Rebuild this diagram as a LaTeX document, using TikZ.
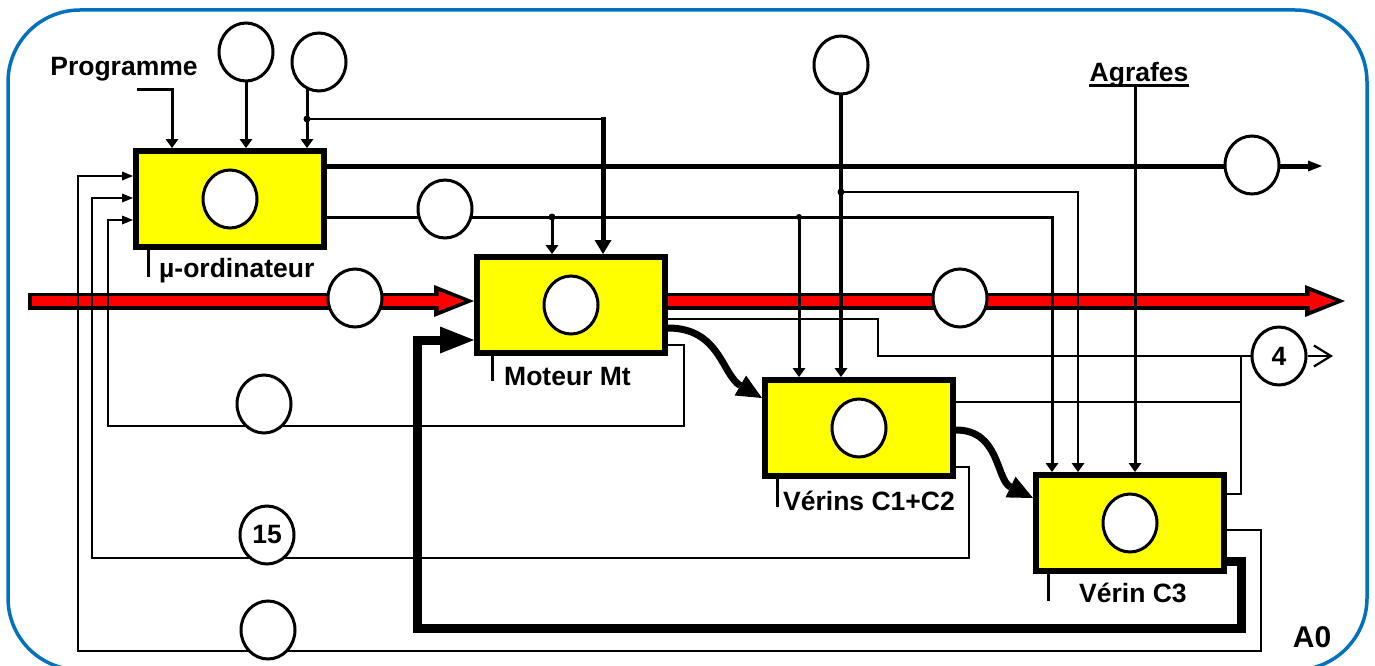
\documentclass[tikz,border=0pt]{standalone}
\usepackage{fontspec}
\setmainfont{Liberation Sans}
\usetikzlibrary{arrows.meta,shapes.geometric,backgrounds}
\definecolor{frameblue}{RGB}{0,112,192}
\definecolor{boxyellow}{RGB}{255,255,0}
\definecolor{flowred}{RGB}{255,0,0}
\tikzset{
  blk/.style={draw,line width=6pt,fill=boxyellow,minimum width=188pt,minimum height=96pt,inner sep=0pt},
  circ/.style={ellipse,draw,line width=3pt,fill=white,minimum width=54pt,minimum height=58pt,
    inner sep=0pt,font=\bfseries\fontsize{26.5pt}{29pt}\selectfont},
  tag/.style={font=\bfseries\fontsize{26.5pt}{29pt}\selectfont,inner sep=0pt},
  wire/.style={line width=#1},
  wire/.default=2.2pt,
  small tip/.style={-{Triangle[length=9pt,width=13pt,line width=0pt]}},
  side tip/.style={-{Triangle[length=11pt,width=9pt,line width=0pt]}},
  big tip/.style={-{Triangle[length=14pt,width=17pt,line width=0pt]}},
  curve tip/.style={-{Triangle[length=25pt,width=23pt,line width=0pt]}},
  back tip/.style={-{Triangle[length=34pt,width=27pt,line width=0pt]}},
  end tip/.style={-{Triangle[length=14pt,width=11pt,line width=0pt]}},
  open tip/.style={-{Straight Barb[length=17pt,width=21pt]}},
  flowline/.style={line width=17pt,-{Triangle[length=40pt,width=32pt,line width=0pt]}},
  flowcore/.style={flowred,line width=10pt,shorten >=9.5pt,-{Triangle[length=26pt,width=20pt,line width=0pt]}},
  frame/.style={draw=frameblue,line width=3.5pt,rounded corners=72pt},
}

\begin{document}
\begin{tikzpicture}[x=1pt,y=-1pt]
  \useasboundingbox (0,0) rectangle (1375,666);
  % blocks
  \foreach \n/\x/\y in {mic/230/199,mot/571/305,ver/859/428,vc3/1130/523}
  {
    \node[blk] (\n) at (\x,\y) {};
    \node[circ] (\n-c) at (\n) {};
  }
  % circles on the flows
  \foreach \n/\x/\y/\t in {ea/246/52/{},eb/319/62/{},ec/841/65/{},eo1/1252/165/{},eo2/445/209/{},
    er1/355/298/{},er2/960/298/{},e4/1279/356/4,ef1/264/404/{},e15/267/535/15,ef3/268/630/{}}
    \node[circ] (\n) at (\x,\y) {\t};

  % texts
  \node[tag,anchor=base] (prog) at (124,76) {Programme};
  \node[tag,anchor=base] (agr) at (1139,82) {Agrafes};
  \node[tag,anchor=base west] (mic-l) at (159,277) {µ-ordinateur};
  \node[tag,anchor=base west] (mot-l) at (504,385) {Moteur Mt};
  \node[tag,anchor=base west] (ver-l) at (783,510) {Vérins C1+C2};
  \node[tag,anchor=base west] (vc3-l) at (1079,602) {Vérin C3};
  \node[tag,anchor=base,font=\bfseries\fontsize{30pt}{32pt}\selectfont] (a0) at (1312,647) {A0};
  \draw[wire=3pt] ([yshift=-4pt]agr.base west) -- ([yshift=-4pt]agr.base east);

  % ticks under the blocks
  \draw[wire=3pt] ([xshift=15pt]mic.south west) -- ++(0,27);
  \draw[wire=3pt] ([xshift=18pt]mot.south west) -- ++(0,25);
  \draw[wire=3pt] ([xshift=15pt]ver.south west) -- ++(0,28);
  \draw[wire=3pt] ([xshift=15pt]vc3.south west) -- ++(0,27);

  \begin{scope}[on background layer]
    \draw[frame] (8,10) rectangle (1367,670);

    % main flow
    \coordinate (rin) at (28,301);
    \coordinate (rout) at (1345,301);
    \draw[flowline] (rin) -- (rin -| mot.west);
    \draw[flowcore,shorten <=3.5pt] (rin) -- (rin -| mot.west);
    \draw[flowline] (mot.east |- rout) -- (rout);
    \draw[flowcore] (mot.east |- rout) -- (rout);

    % inputs of the micro-computer
    \coordinate (pg) at (137,90);
    \draw[wire=3pt,small tip] (pg) -- ++(35,0) -- (172,0 |- mic.north);
    \draw[wire=3pt,small tip] (ea) -- (ea |- mic.north);
    \coordinate (t1) at (307,119);
    \draw[wire=3pt,small tip] (eb -| t1) -- (t1 |- mic.north);
    \fill (t1) circle[radius=3.5pt];
    \draw[wire] (t1) -- (603,119);
    \draw[wire=5pt,big tip] (603,117) -- (603,0 |- mot.north);

    % orders from the micro-computer
    \coordinate (out1) at (1322,166);
    \draw[wire=5pt,end tip] (mic.east |- out1) -- (out1);
    \coordinate (t2) at (552,217);
    \coordinate (t3) at (799,217);
    \draw[wire=3pt,small tip] (mic.east |- t2) -- (1052,217) -- (1052,0 |- vc3.north);
    \fill (t2) circle[radius=3.5pt] (t3) circle[radius=3pt];
    \draw[wire=3pt,small tip] (t2) -- (t2 |- mot.north);
    \draw[wire=3pt,small tip] (t3) -- (t3 |- ver.north);
    \draw[wire=4pt,small tip] (ec) -- (ec |- ver.north);
    \coordinate (t4) at (841,192);
    \fill (t4) circle[radius=3.5pt];
    \draw[wire=2.5pt,small tip] (t4) -- (1078,192) -- (1078,0 |- vc3.north);
    \coordinate (agr-foot) at (1135,87);
    \draw[wire=3pt,small tip] (agr-foot) -- (agr-foot |- vc3.north);

    % power between the blocks
    \draw[wire=7pt,curve tip] (mot.east |- 0,328) .. controls (720,328) and (722,375) .. (ver.west |- 0,398);
    \draw[wire=7pt,curve tip] (ver.east |- 0,430) .. controls (1000,430) and (996,480) .. (vc3.west |- 0,498);

    % reports towards 4
    \draw[wire] (mot.east |- 0,319) -- (878,319) -- (878,356) -- (e4);
    \draw[wire] (ver.east |- 0,402) -- (1241,402);
    \draw[wire] (vc3.east |- 0,494) -- (1241,494) -- (1241,356);
    \draw[wire,open tip] (e4.east) -- (1333,356);

    % reports back to the micro-computer
    \draw[wire,side tip] (mot.east |- 0,345) -- (684,345) -- (684,426) -- (108,426) -- (108,220) -- (mic.west |- 0,220);
    \draw[wire,side tip] (ver.east |- 0,467) -- (969,467) -- (969,558) -- (92,558) -- (92,198) -- (mic.west |- 0,198);
    \draw[wire,side tip] (vc3.east |- 0,530) -- (1261,530) -- (1261,651) -- (78,651) -- (78,176) -- (mic.west |- 0,176);

    % return loop
    \draw[wire=9pt,back tip] (vc3.east |- 0,561) -- (1241,561) -- (1241,628) -- (417,628) -- (417,340) -- (mot.west |- 0,340);
  \end{scope}
\end{tikzpicture}
\end{document}
